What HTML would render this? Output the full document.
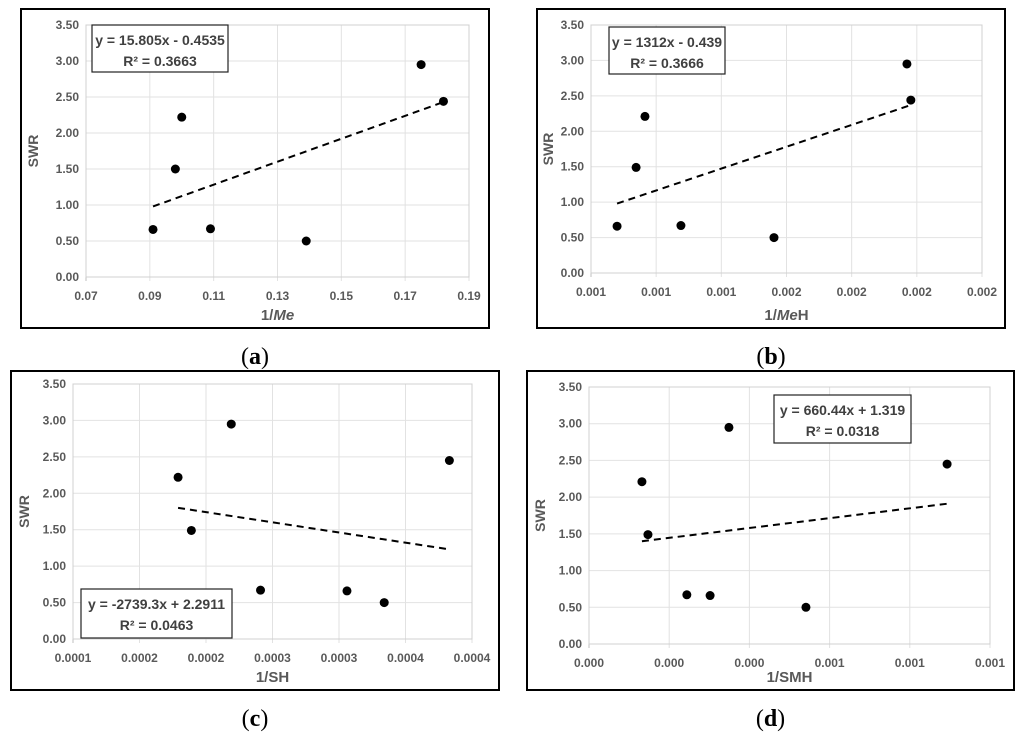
<!DOCTYPE html>
<html><head><meta charset="utf-8"><style>
html,body{margin:0;padding:0;background:#fff;}
svg{display:block;font-family:"Liberation Sans",sans-serif;}
</style></head><body>
<svg id="fig" width="1024" height="742" viewBox="0 0 1024 742"></svg>
<script>
const yTicks=[0,0.5,1,1.5,2,2.5,3,3.5];
const yTickLabels=["0.00","0.50","1.00","1.50","2.00","2.50","3.00","3.50"];
const aX=[0.091,0.098,0.100,0.109,0.139,0.175,0.182];
const aY=[0.66,1.50,2.22,0.67,0.50,2.95,2.44];
const aXTicks=[0.07,0.09,0.11,0.13,0.15,0.17,0.19];
const aXLabels=["0.07","0.09","0.11","0.13","0.15","0.17","0.19"];
const aTrendX=[0.091,0.182];
const aTrendY=[0.98,2.43];
const bX=[0.00085,0.000923,0.000957,0.001095,0.001452,0.001962,0.001977];
const bY=[0.66,1.49,2.21,0.67,0.50,2.95,2.44];
const bXTicks=[0.00075,0.001,0.00125,0.0015,0.00175,0.002,0.00225];
const bXLabels=["0.001","0.001","0.001","0.002","0.002","0.002","0.002"];
const bTrendX=[0.00085,0.001977];
const bTrendY=[0.98,2.37];
const cX=[0.000229,0.000239,0.000269,0.000291,0.000356,0.000384,0.000433];
const cY=[2.22,1.49,2.95,0.67,0.66,0.50,2.45];
const cXTicks=[0.00015,0.0002,0.00025,0.0003,0.00035,0.0004,0.00045];
const cXLabels=["0.0001","0.0002","0.0002","0.0003","0.0003","0.0004","0.0004"];
const cTrendX=[0.000229,0.000433];
const cTrendY=[1.80,1.23];
const dX=[0.000132,0.000147,0.000244,0.000302,0.000349,0.000541,0.000893];
const dY=[2.21,1.49,0.67,0.66,2.95,0.50,2.45];
const dXTicks=[0,0.0002,0.0004,0.0006,0.0008,0.001];
const dXLabels=["0.000","0.000","0.000","0.001","0.001","0.001"];
const dTrendX=[0.000132,0.000893];
const dTrendY=[1.40,1.91];

const NS="http://www.w3.org/2000/svg";
const svg=document.getElementById('fig');
function mk(tag,attrs,parent,text){const e=document.createElementNS(NS,tag);for(const k in attrs)e.setAttribute(k,attrs[k]);if(text!==undefined)e.textContent=text;(parent||svg).appendChild(e);return e;}

function panel(cfg){
  const g=mk('g',{});
  
  
  const b=mk('rect',{x:cfg.bx,y:cfg.by,width:cfg.bw,height:cfg.bh,fill:'#fff',stroke:'#000','stroke-width':2},g);
  
  
  const xmin=cfg.xt[0],xmax=cfg.xt[cfg.xt.length-1];
  const sx=v=>cfg.px0+(v-xmin)/(xmax-xmin)*(cfg.px1-cfg.px0);
  const sy=v=>cfg.py0-(v/3.5)*(cfg.py0-cfg.py1);
  yTicks.forEach((t,i)=>{
    const gl=mk('line',{x1:cfg.px0,x2:cfg.px1,y1:sy(t),y2:sy(t),stroke:i===0?'#bfbfbf':'#e2e2e2','stroke-width':1},g);
    
    
    const tl=mk('text',{x:cfg.px0-7,y:sy(t)+4,'text-anchor':'end','font-size':12,'font-weight':'bold',fill:'#595959'},g,yTickLabels[i]);
    
    
  });
  cfg.xt.forEach((t,i)=>{
    const gl=mk('line',{x1:sx(t),x2:sx(t),y1:cfg.py1,y2:cfg.py0+4,stroke:i===0?'#bfbfbf':'#e2e2e2','stroke-width':1},g);
    
    
    const tl=mk('text',{x:sx(t),y:cfg.xly,'text-anchor':'middle','font-size':12,'font-weight':'bold',fill:'#595959'},g,cfg.xl[i]);
    
    
  });
  const fr=mk('rect',{x:cfg.px0,y:cfg.py1,width:cfg.px1-cfg.px0,height:cfg.py0-cfg.py1,fill:'none',stroke:'#d0d0d0','stroke-width':1},g);
  
  
  const tr=mk('line',{x1:sx(cfg.tx[0]),y1:sy(cfg.ty[0]),x2:sx(cfg.tx[1]),y2:sy(cfg.ty[1]),stroke:'#000','stroke-width':2,'stroke-dasharray':'7,5'},g);
  
  
  cfg.x.forEach((v,i)=>{
    const c=mk('circle',{cx:sx(v),cy:sy(cfg.y[i]),r:4.5,fill:'#000'},g);
    
    
  });
  const lg=mk('g',{},g);
  
  
  mk('rect',{x:cfg.lx,y:cfg.ly,width:cfg.lw,height:cfg.lh,fill:'#fff',stroke:'#222','stroke-width':1.2},lg);
  mk('text',{x:cfg.lx+cfg.lw/2,y:cfg.ly+20,'text-anchor':'middle','font-size':14,'font-weight':'bold',fill:'#404040'},lg,cfg.eq);
  mk('text',{x:cfg.lx+cfg.lw/2,y:cfg.ly+41,'text-anchor':'middle','font-size':14,'font-weight':'bold',fill:'#404040'},lg,cfg.r2);
  const yt=mk('text',{x:0,y:0,'text-anchor':'middle','font-size':14,'font-weight':'bold',fill:'#595959',transform:`translate(${cfg.ytx},${(cfg.py0+cfg.py1)/2}) rotate(-90)`},g,'SWR');
  
  
  const xt=mk('text',{x:(cfg.px0+cfg.px1)/2,y:cfg.xty,'text-anchor':'middle','font-size':15,'font-weight':'bold',fill:'#595959'},g);
  
  
  cfg.xtitle.forEach(p=>{const s=mk('tspan',{},xt,p[0]);if(p[1])s.setAttribute('font-style','italic');});
  const cap=mk('text',{x:(cfg.bx+cfg.bx+cfg.bw)/2,y:cfg.capy,'text-anchor':'middle','font-size':24,'font-family':'Liberation Serif, serif',fill:'#000'},g);
  
  
  mk('tspan',{},cap,'(');mk('tspan',{'font-weight':'bold'},cap,cfg.id);mk('tspan',{},cap,')');
}
panel({id:'a',bx:21,by:9,bw:468,bh:319,px0:86,px1:469,py0:277,py1:25,xt:aXTicks,xl:aXLabels,x:aX,y:aY,tx:aTrendX,ty:aTrendY,
 lx:92,ly:25,lw:136,lh:47,eq:'y = 15.805x - 0.4535',r2:'R² = 0.3663',ytx:38,xly:300,xty:320,xtitle:[['1/',0],['Me',1]],capy:364});
panel({id:'b',bx:537,by:9,bw:468,bh:319,px0:591,px1:982,py0:273,py1:25,xt:bXTicks,xl:bXLabels,x:bX,y:bY,tx:bTrendX,ty:bTrendY,
 lx:609,ly:27,lw:116,lh:47,eq:'y = 1312x - 0.439',r2:'R² = 0.3666',ytx:553,xly:296,xty:320,xtitle:[['1/',0],['Me',1],['H',0]],capy:364});
panel({id:'c',bx:11,by:371,bw:488,bh:319,px0:73,px1:472,py0:639,py1:384,xt:cXTicks,xl:cXLabels,x:cX,y:cY,tx:cTrendX,ty:cTrendY,
 lx:81,ly:589,lw:151,lh:49,eq:'y = -2739.3x + 2.2911',r2:'R² = 0.0463',ytx:29,xly:662,xty:682,xtitle:[['1/SH',0]],capy:726});
panel({id:'d',bx:527,by:371,bw:487,bh:319,px0:589,px1:990,py0:644,py1:387,xt:dXTicks,xl:dXLabels,x:dX,y:dY,tx:dTrendX,ty:dTrendY,
 lx:774,ly:395,lw:137,lh:48,eq:'y = 660.44x + 1.319',r2:'R² = 0.0318',ytx:545,xly:667,xty:682,xtitle:[['1/SMH',0]],capy:726});
</script>
</body></html>
